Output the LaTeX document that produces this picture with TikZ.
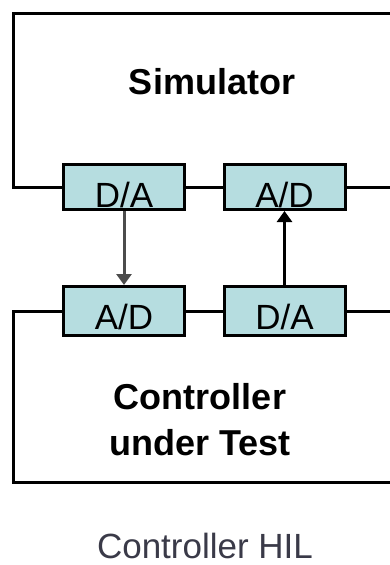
\documentclass[tikz,border=0pt]{standalone}
\usepackage{fontspec}
\setmainfont{Liberation Sans}
\usetikzlibrary{arrows.meta}

\definecolor{convfill}{RGB}{182,221,224}
\definecolor{captiongray}{RGB}{58,58,72}

\tikzset{
  conv/.style={draw, line width=3pt, fill=convfill, minimum width=121pt,
    inner sep=0pt, font=\fontsize{35}{40}\selectfont},
  wire/.style={line width=3pt},
  sig/.style={line width=3pt, -{Triangle[width=15pt,length=11pt]}},
  blocktitle/.style={font=\bfseries\fontsize{36}{46}\selectfont, align=center},
}

% converter label, set a little below the middle of its box
\newcommand\convlabel[2]{\raisebox{-#1}[\height][\depth]{#2}}

\begin{document}
\begin{tikzpicture}[x=1pt, y=-1pt]
  \useasboundingbox (0,0) rectangle (390,565);

  % --- converters on the simulator side ---
  \node[conv, minimum height=45pt] (simDA) at (124,187) {\convlabel{8pt}{D/A}};
  \node[conv, minimum height=45pt] (simAD) at (284.5,187) {\convlabel{8pt}{A/D}};

  % --- converters on the controller side ---
  \node[conv, minimum height=49pt] (cutAD) at (124,311) {\convlabel{6pt}{A/D}};
  \node[conv, minimum height=49pt] (cutDA) at (284.5,311) {\convlabel{6pt}{D/A}};

  % outline corners (the right side runs off the page)
  \coordinate (simNW) at (13,13);
  \coordinate (simNE) at (390,13);
  \coordinate (cutSW) at (13,482);
  \coordinate (cutSE) at (390,482);

  % simulator outline
  \draw[wire] (simNE) -- (simNW) |- (simDA.west);
  \draw[wire] (simDA) -- (simAD);
  \draw[wire] (simAD.east) -- (simAD.east -| simNE);

  % controller outline
  \draw[wire] (cutAD.west) -| (cutSW) -- (cutSE);
  \draw[wire] (cutAD) -- (cutDA);
  \draw[wire] (cutDA.east) -- (cutDA.east -| cutSE);

  % signal paths
  \draw[sig, black!70] (simDA.south) -- (cutAD.north);
  \draw[sig] (cutDA.north) -- (simAD.south);

  % labels
  \node[blocktitle, anchor=base] (simLabel) at (212,94) {Simulator};
  \node[blocktitle] (cutLabel) at (200,420) {Controller\\under Test};
  \node[font=\fontsize{35}{42}\selectfont, text=captiongray, anchor=base,
    inner sep=0pt] (caption) at (205,558) {Controller HIL};
\end{tikzpicture}
\end{document}
